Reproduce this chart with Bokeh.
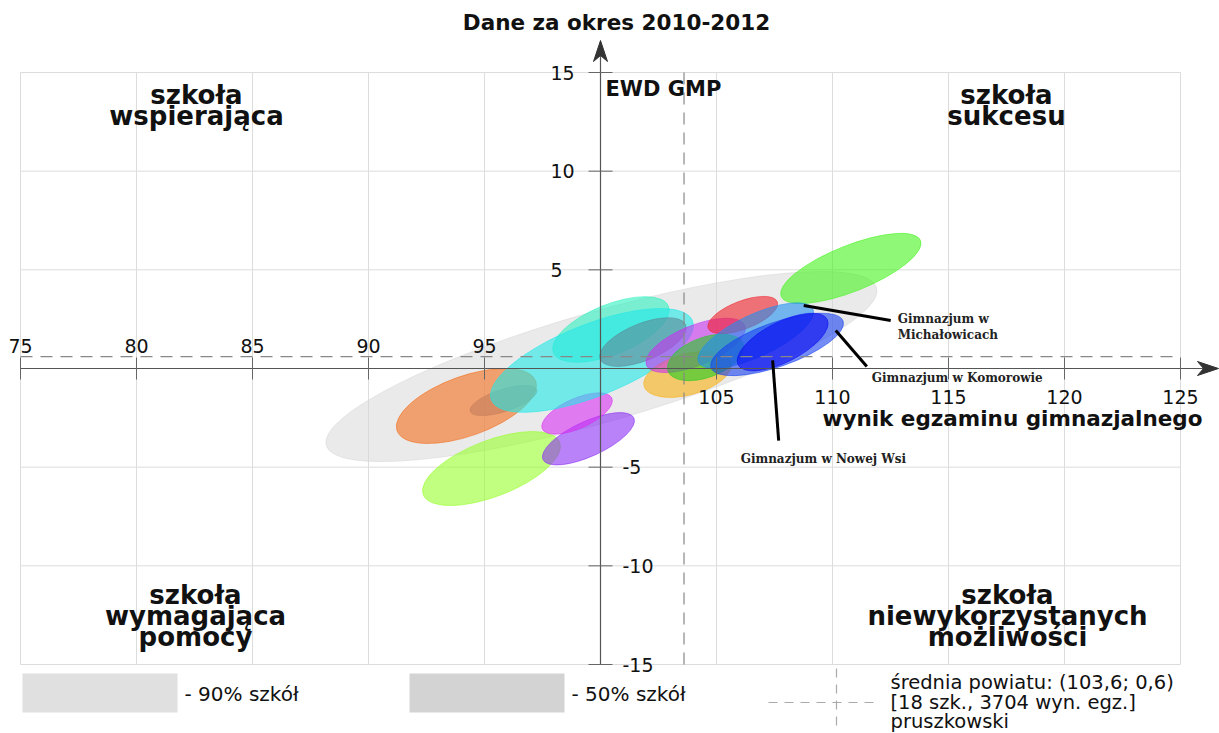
import math
from bokeh.plotting import figure
from bokeh.core.properties import value
from bokeh.embed import file_html
from bokeh.resources import INLINE

# ---------------- data ----------------
title_text = "Dane za okres 2010-2012"
x_title = "wynik egzaminu gimnazjalnego"
y_title = "EWD GMP"
x_ticks = [75, 80, 85, 90, 95, 100, 105, 110, 115, 120, 125]
y_ticks = [-15, -10, -5, 0, 5, 10, 15]
mean_x = 103.6
mean_y = 0.6

# 90% of schools region (ellipse)
region_x = [100.04]
region_y = [0.10]
region_w = [24.68]
region_h = [5.58]
region_angle = [16.0]

# school ellipses: centre (exam result, EWD), width (exam units), height (EWD units), tilt (deg)
ell_x = [94.22, 95.82, 95.30, 99.48, 98.99, 100.45, 99.63, 101.83, 103.75, 104.10, 104.53, 106.13, 110.79, 106.69, 107.61, 107.85]
ell_y = [-1.90, -1.62, -5.07, -3.56, -2.28, 1.98, 0.41, 1.34, -0.30, 1.17, 0.56, 2.71, 5.07, 1.67, 1.22, 1.34]
ell_w = [6.35, 3.02, 6.30, 4.31, 3.28, 5.35, 9.32, 3.97, 3.88, 4.57, 3.45, 3.19, 6.47, 5.44, 6.04, 4.31]
ell_h = [3.03, 1.12, 2.84, 1.77, 1.52, 2.53, 3.65, 1.88, 2.08, 2.03, 2.03, 1.42, 2.33, 2.13, 2.23, 2.03]
ell_angle = [19.7, 18.0, 21.0, 24.6, 24.0, 22.0, 21.5, 22.0, 15.0, 22.0, 20.0, 21.0, 21.8, 25.0, 19.5, 27.0]
ell_colors = ["#f36d1a", "#c47e5c", "#97ff2b", "#8a2ef3", "#d82ef3", "#2ef0c0", "#20e8e8", "#5c8798",
              "#f8b010", "#c830f0", "#22cc22", "#f0202a", "#45f31d", "#2090f0", "#1840f0", "#0a0af0"]

# labelled schools: pointer start (on ellipse), pointer end, label anchor
school_labels = [["Gimnazjum w", "Michałowicach"], ["Gimnazjum w Komorowie"], ["Gimnazjum w Nowej Wsi"]]
pointer_from = [(108.76, 3.19), (110.14, 1.93), (107.42, 0.41)]
pointer_to = [(112.51, 2.43), (111.48, 0.10), (107.68, -3.65)]
label_at = [(112.81, 2.53), (111.69, -0.46), (106.04, -4.61)]

quadrants = [["szkoła", "wspierająca"], ["szkoła", "sukcesu"],
             ["szkoła", "wymagająca", "pomocy"], ["szkoła", "niewykorzystanych", "możliwości"]]
legend_texts = ["- 90% szkół", "- 50% szkół"]
legend_colors = ["#e0e0e0", "#d3d3d3"]
mean_texts = ["średnia powiatu: (103,6; 0,6)", "[18 szk., 3704 wyn. egz.]", "pruszkowski"]

# ---------------- layout ----------------
W, H = 1219, 733
XS = 1160 / 50.0          # px per exam unit
YS = 592 / 30.0           # px per EWD unit
x_start = 75 - 20 / XS
x_end = x_start + W / XS
y_end = 15 + 72 / YS
y_start = y_end - H / YS


def fx(px):
    return x_start + px / XS


def fy(py):
    return y_end - py / YS


p = figure(width=W, height=H, x_range=(x_start, x_end), y_range=(y_start, y_end),
           output_backend="svg", toolbar_location=None, x_axis_type=None, y_axis_type=None,
           min_border=0, outline_line_color=None, background_fill_color="white",
           border_fill_color="white")

xmin, xmax = min(x_ticks), max(x_ticks)
ymin, ymax = min(y_ticks), max(y_ticks)
ox = x_ticks[len(x_ticks) // 2]   # 100
oy = 0

# grid
grid_x = [t for t in x_ticks if t != ox]
grid_y = [t for t in y_ticks if t != oy]
p.segment(x0=grid_x, y0=[ymin] * len(grid_x), x1=grid_x, y1=[ymax] * len(grid_x),
          line_color="#dcdcdc", line_width=1)
p.segment(x0=[xmin] * len(grid_y), y0=grid_y, x1=[xmax] * len(grid_y), y1=grid_y,
          line_color="#dcdcdc", line_width=1)

# 90% region
p.ellipse(x=region_x, y=region_y, width=region_w, height=region_h,
          angle=[math.radians(a) for a in region_angle],
          fill_color="#d6d6d6", fill_alpha=0.5, line_color="#d6d6d6", line_alpha=0.5)

# school ellipses
p.ellipse(x=ell_x, y=ell_y, width=ell_w, height=ell_h,
          angle=[math.radians(a) for a in ell_angle],
          fill_color=ell_colors, fill_alpha=0.6, line_color=ell_colors, line_alpha=0.7,
          line_width=0.8)

# mean lines
p.segment(x0=[mean_x], y0=[ymin], x1=[mean_x], y1=[ymax], line_color="#888888",
          line_width=1.2, line_dash="12 8")
p.segment(x0=[xmin], y0=[mean_y], x1=[xmax], y1=[mean_y], line_color="#888888",
          line_width=1.2, line_dash="12 8")

# axes
ax_px, ay_px = (ox - x_start) * XS, (y_end - oy) * YS
p.segment(x0=[xmin], y0=[oy], x1=[fx(1208)], y1=[oy], line_color="#555555", line_width=1.2)
p.segment(x0=[ox], y0=[ymin], x1=[ox], y1=[fy(50)], line_color="#555555", line_width=1.2)
p.patch(x=[fx(ax_px), fx(ax_px - 7), fx(ax_px), fx(ax_px + 7)],
        y=[fy(40), fy(61), fy(55), fy(61)], fill_color="#333333", line_color="#333333")
p.patch(x=[fx(1218), fx(1197), fx(1203), fx(1197)],
        y=[fy(ay_px), fy(ay_px - 7), fy(ay_px), fy(ay_px + 7)], fill_color="#333333", line_color="#333333")

# ticks
p.segment(x0=grid_x, y0=[oy - 11 / YS] * len(grid_x), x1=grid_x, y1=[oy + 11 / YS] * len(grid_x),
          line_color="#666666", line_width=1)
p.segment(x0=[ox - 12 / XS] * len(grid_y), y0=grid_y, x1=[ox + 12 / XS] * len(grid_y), y1=grid_y,
          line_color="#666666", line_width=1)

font = value("DejaVu Sans")
xl = [t for t in grid_x if t < ox]
xr = [t for t in grid_x if t > ox]
p.text(x=xl, y=[oy + 23 / YS] * len(xl), text=[str(t) for t in xl], text_font=font,
       text_font_size="19px", text_align="center", text_baseline="middle", text_color="#111111")
p.text(x=xr, y=[oy - 28 / YS] * len(xr), text=[str(t) for t in xr], text_font=font,
       text_font_size="19px", text_align="center", text_baseline="middle", text_color="#111111")
yp = [t for t in grid_y if t > oy]
yn = [t for t in grid_y if t < oy]
p.text(x=[ox - 50 / XS] * len(yp), y=yp, text=[str(t) for t in yp], text_font=font,
       text_font_size="19px", text_align="left", text_baseline="middle", text_color="#111111")
p.text(x=[ox + 22 / XS] * len(yn), y=yn, text=[str(t) for t in yn], text_font=font,
       text_font_size="19px", text_align="left", text_baseline="middle", text_color="#111111")

# titles
p.text(x=[fx(616)], y=[fy(22)], text=[title_text], text_font=font, text_font_style="bold",
       text_font_size="21.5px", text_align="center", text_baseline="middle", text_color="#111111")
p.text(x=[fx(605)], y=[fy(88)], text=[y_title], text_font=font, text_font_style="bold",
       text_font_size="21px", text_align="left", text_baseline="middle", text_color="#111111")
p.text(x=[fx(1202)], y=[fy(418)], text=[x_title], text_font=font, text_font_style="bold",
       text_font_size="21.5px", text_align="right", text_baseline="middle", text_color="#111111")

# quadrant labels
q_pos = [(196, 94), (1006, 94), (195, 594), (1007, 594)]
for lines, (qx, qy) in zip(quadrants, q_pos):
    p.text(x=[fx(qx)] * len(lines), y=[fy(qy + 21 * i) for i in range(len(lines))], text=lines,
           text_font=font, text_font_style="bold", text_font_size="26px", text_align="center",
           text_baseline="middle", text_color="#111111")

# school pointers and labels
p.segment(x0=[a[0] for a in pointer_from], y0=[a[1] for a in pointer_from],
          x1=[b[0] for b in pointer_to], y1=[b[1] for b in pointer_to],
          line_color="black", line_width=3)
for lines, (lx, ly) in zip(school_labels, label_at):
    p.text(x=[lx] * len(lines), y=[ly - i * 16 / YS for i in range(len(lines))], text=lines,
           text_font=value("DejaVu Serif"), text_font_style="bold", text_font_size="12px",
           text_align="left", text_baseline="middle", text_color="#222222")

# legend
leg_left = [22, 409]
p.quad(left=[fx(l) for l in leg_left], right=[fx(l + 155) for l in leg_left],
       top=[fy(673)] * 2, bottom=[fy(712)] * 2, fill_color=legend_colors, line_color=None)
p.text(x=[fx(l + 162) for l in leg_left], y=[fy(693)] * 2, text=legend_texts, text_font=font,
       text_font_size="20px", text_align="left", text_baseline="middle", text_color="#111111")
p.segment(x0=[fx(768), fx(836)], y0=[fy(702), fy(668)], x1=[fx(880), fx(836)], y1=[fy(702), fy(730)],
          line_color="#aaaaaa", line_width=1.2, line_dash="9 7")
p.text(x=[fx(890)] * 3, y=[fy(682), fy(702), fy(721)], text=mean_texts, text_font=font,
       text_font_size="19.5px", text_align="left", text_baseline="middle", text_color="#111111")

open("out.html", "w").write(file_html(p, INLINE))
